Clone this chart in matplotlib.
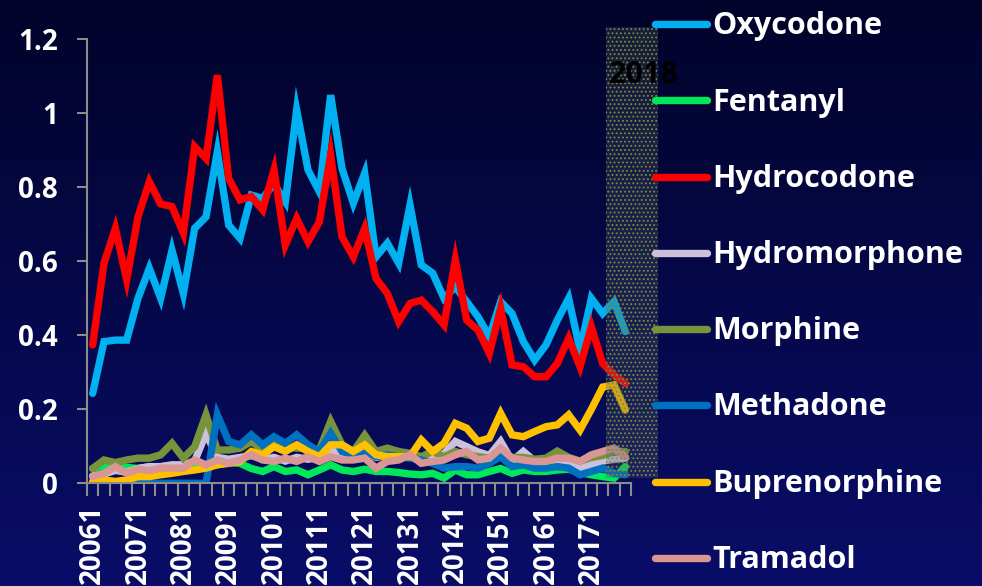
import numpy as np
import matplotlib
matplotlib.use("Agg")
import matplotlib.pyplot as plt
from matplotlib.lines import Line2D
from matplotlib.patches import Rectangle

plt.rcParams['font.family'] = ['Open Sans', 'DejaVu Sans']
plt.rcParams['hatch.linewidth'] = 0.8

# quarterly rates, 2006 Q1 .. 2017 Q4
oxycodone = [0.243, 0.383, 0.387, 0.387, 0.50, 0.581, 0.50, 0.63, 0.513, 0.689, 0.72, 0.896,
             0.698, 0.662, 0.779, 0.77, 0.81, 0.761, 1.009, 0.847, 0.788, 1.049, 0.851, 0.757,
             0.838, 0.612, 0.649, 0.595, 0.752, 0.59, 0.568, 0.50, 0.531, 0.491, 0.45, 0.396,
             0.491, 0.459, 0.383, 0.333, 0.374, 0.441, 0.50, 0.36, 0.50, 0.459, 0.491, 0.41]
fentanyl = [0.04, 0.047, 0.04, 0.043, 0.04, 0.045, 0.045, 0.048, 0.045, 0.05, 0.045, 0.05,
            0.056, 0.054, 0.04, 0.032, 0.045, 0.032, 0.036, 0.023, 0.036, 0.05, 0.036, 0.032,
            0.038, 0.032, 0.032, 0.029, 0.025, 0.023, 0.027, 0.014, 0.036, 0.023, 0.023, 0.032,
            0.04, 0.027, 0.036, 0.032, 0.032, 0.036, 0.038, 0.029, 0.023, 0.018, 0.014, 0.045]
hydrocodone = [0.374, 0.595, 0.689, 0.55, 0.72, 0.815, 0.755, 0.748, 0.676, 0.91, 0.878, 1.103,
               0.824, 0.766, 0.775, 0.739, 0.847, 0.644, 0.716, 0.653, 0.707, 0.887, 0.666, 0.612,
               0.689, 0.554, 0.513, 0.437, 0.486, 0.495, 0.464, 0.428, 0.604, 0.441, 0.414, 0.351,
               0.473, 0.32, 0.315, 0.288, 0.288, 0.324, 0.392, 0.315, 0.423, 0.324, 0.293, 0.27]
hydromorphone = [0.02, 0.025, 0.035, 0.03, 0.04, 0.045, 0.045, 0.05, 0.05, 0.06, 0.135, 0.07,
                 0.065, 0.07, 0.075, 0.065, 0.07, 0.06, 0.07, 0.065, 0.07, 0.09, 0.075, 0.07,
                 0.085, 0.07, 0.075, 0.07, 0.075, 0.07, 0.075, 0.08, 0.113, 0.099, 0.085, 0.075,
                 0.113, 0.06, 0.086, 0.06, 0.06, 0.055, 0.06, 0.041, 0.05, 0.06, 0.065, 0.068]
morphine = [0.04, 0.063, 0.056, 0.063, 0.068, 0.068, 0.077, 0.108, 0.068, 0.099, 0.185, 0.09,
            0.09, 0.095, 0.113, 0.09, 0.108, 0.099, 0.095, 0.095, 0.09, 0.167, 0.104, 0.086,
            0.13, 0.086, 0.095, 0.086, 0.081, 0.072, 0.086, 0.072, 0.086, 0.077, 0.072, 0.068,
            0.077, 0.07, 0.07, 0.065, 0.068, 0.087, 0.07, 0.06, 0.07, 0.075, 0.086, 0.086]
methadone = [0.0, 0.0, 0.0, 0.0, 0.0, 0.0, 0.0, 0.0, 0.0, 0.0, 0.0, 0.185,
             0.113, 0.104, 0.131, 0.104, 0.126, 0.108, 0.131, 0.104, 0.086, 0.135, 0.086, 0.077,
             0.086, 0.072, 0.077, 0.072, 0.068, 0.063, 0.054, 0.041, 0.045, 0.045, 0.041, 0.054,
             0.072, 0.045, 0.05, 0.041, 0.041, 0.045, 0.041, 0.023, 0.032, 0.041, 0.027, 0.023]
buprenorphine = [0.005, 0.009, 0.005, 0.009, 0.018, 0.018, 0.023, 0.027, 0.032, 0.036, 0.041, 0.05,
                 0.054, 0.059, 0.086, 0.077, 0.099, 0.086, 0.104, 0.086, 0.072, 0.104, 0.104, 0.086,
                 0.104, 0.077, 0.072, 0.072, 0.072, 0.117, 0.086, 0.108, 0.162, 0.149, 0.113, 0.122,
                 0.189, 0.131, 0.126, 0.14, 0.153, 0.158, 0.185, 0.144, 0.2, 0.26, 0.266, 0.198]
tramadol = [0.018, 0.027, 0.045, 0.027, 0.038, 0.034, 0.041, 0.041, 0.041, 0.063, 0.05, 0.063,
            0.054, 0.063, 0.077, 0.063, 0.059, 0.068, 0.059, 0.072, 0.059, 0.072, 0.063, 0.063,
            0.068, 0.041, 0.059, 0.063, 0.077, 0.054, 0.059, 0.063, 0.077, 0.086, 0.063, 0.068,
            0.095, 0.068, 0.063, 0.059, 0.059, 0.068, 0.068, 0.059, 0.077, 0.086, 0.095, 0.072]

series = [
    ("Oxycodone", oxycodone, "#00B0F0"),
    ("Fentanyl", fentanyl, "#00E85A"),
    ("Hydrocodone", hydrocodone, "#FF0000"),
    ("Hydromorphone", hydromorphone, "#CCC0DA"),
    ("Morphine", morphine, "#77933C"),
    ("Methadone", methadone, "#0070C0"),
    ("Buprenorphine", buprenorphine, "#FFC000"),
    ("Tramadol", tramadol, "#D99694"),
]
year_labels = [f"{y}1" for y in range(2006, 2018)]
y_ticks = [0, 0.2, 0.4, 0.6, 0.8, 1.0, 1.2]
y_labels = ["0", "0.2", "0.4", "0.6", "0.8", "1", "1.2"]

W, H = 982, 586
fig = plt.figure(figsize=(W / 100, H / 100), dpi=100)

# background gradient
bg = fig.add_axes([0, 0, 1, 1], zorder=-10)
top = np.array([2, 3, 42]) / 255
bot = np.array([9, 13, 104]) / 255
t = np.linspace(0, 1, 256)[:, None]
grad = top + (bot - top) * t
bg.imshow(grad[:, None, :], aspect='auto', extent=[0, 1, 0, 1])
bg.axis('off')

ax = fig.add_axes([87 / W, 1 - 483.3 / H, 544 / W, (483.3 - 39.3) / H])
ax.patch.set_alpha(0)

x = np.arange(len(oxycodone))
lines = []
for name, vals, col in series:
    ln, = ax.plot(x, vals, color=col, lw=5.3, solid_capstyle='round',
                  solid_joinstyle='miter', label=name)
    lines.append(ln)

ax.set_xlim(-0.5, len(x) - 0.5)
ax.set_ylim(0, 1.2)
ax.set_yticks(y_ticks)
ax.set_yticklabels(y_labels)
ax.set_xticks(np.arange(0, len(x), 4))
ax.set_xticklabels(year_labels, rotation=90)
ax.set_xticks(np.arange(-0.5, len(x), 1), minor=True)

for s in ['top', 'right']:
    ax.spines[s].set_visible(False)
for s in ['left', 'bottom']:
    ax.spines[s].set_color('#8C8C8C')
    ax.spines[s].set_linewidth(1.5)

ax.tick_params(axis='y', colors='#8C8C8C', length=7, width=1.5, pad=14,
               labelcolor='white', labelsize=20)
ax.tick_params(axis='x', which='major', length=0, pad=15, labelcolor='white', labelsize=20)
ax.tick_params(axis='x', which='minor', colors='#8C8C8C', length=9, width=1.5)
for lab in ax.get_xticklabels() + ax.get_yticklabels():
    lab.set_fontweight('bold')

# shaded 2018 block
rect = Rectangle((606 / W, 1 - 478 / H), 52 / W, (478 - 27) / H, transform=fig.transFigure,
                 facecolor=(0.33, 0.38, 0.33, 0.28), edgecolor='#7A8C4A', hatch='....',
                 lw=0, zorder=5)
fig.add_artist(rect)
fig.text(644 / W, 1 - 75 / H, "2018", color='black', fontsize=22, fontweight='bold',
         ha='center', va='center', zorder=6)

# legend
for k, ln in enumerate(lines):
    yl = 24.3 + 76.2 * k
    fig.add_artist(Line2D([655 / W, 707 / W], [1 - yl / H, 1 - yl / H], color=ln.get_color(),
                          lw=5.3, solid_capstyle='round', zorder=7))
    fig.text(712 / W, 1 - (yl + 10) / H, ln.get_label(), color='white', fontsize=22,
             fontweight='bold', ha='left', va='baseline', zorder=7)

fig.savefig("out.png", dpi=100)
